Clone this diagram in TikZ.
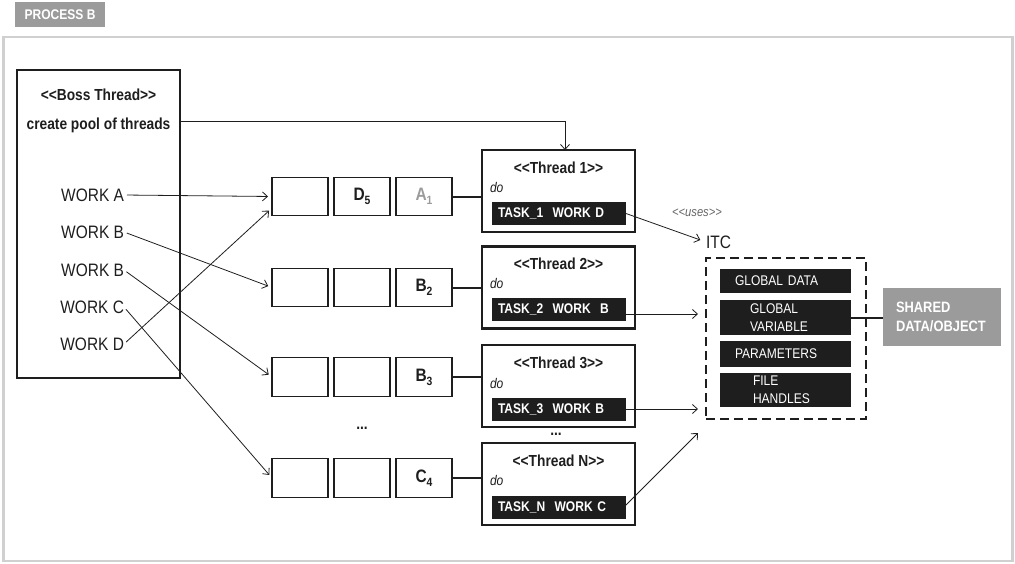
\documentclass[tikz,border=0pt]{standalone}
\usepackage{fontspec}
\setmainfont{Liberation Sans}[FakeStretch=0.86]
\usetikzlibrary{arrows.meta,calc}
\definecolor{framegray}{HTML}{D0D0D0}
\definecolor{boxgray}{HTML}{9B9B9B}
\definecolor{ink}{HTML}{1E1E1E}
\newcommand\LLt{<\kern0pt<}
\newcommand\GGt{>\kern0pt>}
\begin{document}
\begin{tikzpicture}[x=1pt,y=-1pt,
  every node/.style={inner sep=0pt, outer sep=0pt},
  lbl/.style={font=\fontsize{18}{18}\selectfont, text=ink},
  qbox/.style={draw=ink, line width=1.3pt, minimum width=56pt, minimum height=38.5pt, font=\bfseries\fontsize{18}{18}\selectfont, text=ink},
  thr/.style={draw=ink, line width=2.2pt, minimum width=153pt, minimum height=82pt},
  ttl/.style={font=\bfseries\fontsize{16}{16}\selectfont, text=ink},
  dolbl/.style={font=\itshape\fontsize{14}{14}\selectfont, anchor=west, text=ink},
  bar/.style={fill=ink, text=white, minimum width=134pt, minimum height=23pt, text width=122pt, align=left, inner xsep=6pt, font=\bfseries\fontsize{14}{14}\selectfont},
  itcbox/.style={fill=ink, text=white, minimum width=131pt, align=left, anchor=center, font=\fontsize{14}{18}\selectfont},
  arr/.style={draw=ink, line width=0.8pt, -{Straight Barb[length=5pt,width=9pt]}},
  link/.style={draw=ink, line width=2pt},
  dots/.style={font=\bfseries\fontsize{16}{16}\selectfont, text=ink},
]
\useasboundingbox (0,0) rectangle (1015,563);
% frame and title
\node[draw=framegray, line width=2.5pt, minimum width=1009pt, minimum height=524pt] (frame) at (508,299) {};
\node[fill=boxgray, text=white, font=\bfseries\fontsize{14}{14}\selectfont, minimum width=90pt, minimum height=25pt] (proc) at (60,14.5) {PROCESS B};
% boss
\node[draw=ink, line width=1.1pt, minimum width=163pt, minimum height=308pt] (boss) at (98.5,224) {};
\node[ttl] (bosst) at (98.5,95) {\LLt Boss Thread\GGt};
\node[ttl] (pool) at (98.5,125) {create pool of threads};
\node[lbl, anchor=east] (wa) at (124,195) {WORK A};
\node[lbl, anchor=east] (wb1) at (124,232) {WORK B};
\node[lbl, anchor=east] (wb2) at (124,270) {WORK B};
\node[lbl, anchor=east] (wc) at (124,307) {WORK C};
\node[lbl, anchor=east] (wd) at (124,344) {WORK D};
% queues
\foreach \r/\y in {1/196.5,2/287.5,3/377,4/478}{
  \node[qbox] (q\r1) at (300,\y) {};
  \node[qbox] (q\r2) at (362,\y) {};
}
\node[qbox] (q13) at (424,196.5) {\textcolor{boxgray}{A\raisebox{-4pt}{\fontsize{12}{12}\selectfont 1}}};
\node[qbox] (q23) at (424,287.5) {B\raisebox{-4pt}{\fontsize{12}{12}\selectfont 2}};
\node[qbox] (q33) at (424,377) {B\raisebox{-4pt}{\fontsize{12}{12}\selectfont 3}};
\node[qbox] (q43) at (424,478) {C\raisebox{-4pt}{\fontsize{12}{12}\selectfont 4}};
\node[font=\bfseries\fontsize{18}{18}\selectfont, text=ink] (d5) at (362,196.5) {D\raisebox{-4pt}{\fontsize{12}{12}\selectfont 5}};
\node[dots] (qdots) at (362,428) {...};
% threads
\node[thr] (t1) at (558.5,191) {};
\node[thr] (t2) at (558.5,287.5) {};
\node[thr] (t3) at (558.5,386) {};
\node[thr] (tn) at (558.5,484) {};
\node[ttl] (t1t) at (558.5,168) {\LLt Thread 1\GGt};
\node[ttl] (t2t) at (558.5,264) {\LLt Thread 2\GGt};
\node[ttl] (t3t) at (558.5,363) {\LLt Thread 3\GGt};
\node[ttl] (tnt) at (558.5,460.5) {\LLt Thread N\GGt};
\node[dolbl] (t1d) at (490,187) {do};
\node[dolbl] (t2d) at (490,283) {do};
\node[dolbl] (t3d) at (490,383) {do};
\node[dolbl] (tnd) at (490,480) {do};
\node[bar] (b1) at (559,213.5) {TASK\_1~~WORK D};
\node[bar] (b2) at (559,309.5) {TASK\_2~~WORK~~B};
\node[bar] (b3) at (559,409) {TASK\_3~~WORK B};
\node[bar] (bn) at (559,507) {TASK\_N~~WORK C};
\node[dots] (tdots) at (556,434) {...};
% ITC
\node[font=\itshape\fontsize{13}{13}\selectfont, text=black!60] (uses) at (697,213) {\LLt uses\GGt};
\node[font=\fontsize{18}{18}\selectfont, text=ink, anchor=west] (itc) at (706,242) {ITC};
\node[draw=ink, line width=1.3pt, dash pattern=on 9pt off 5pt, minimum width=160pt, minimum height=161pt] (dash) at (786,338.5) {};
\node[itcbox, minimum height=24pt, text width=101pt, inner xsep=15pt] (gd) at (785.5,281) {GLOBAL DATA};
\node[itcbox, minimum height=35pt, text width=71pt, inner xsep=30pt] (gv) at (785.5,317.5) {GLOBAL\\VARIABLE};
\node[itcbox, minimum height=26pt, text width=101pt, inner xsep=15pt] (pa) at (785.5,354) {PARAMETERS};
\node[itcbox, minimum height=34pt, text width=65pt, inner xsep=33pt] (fh) at (785.5,390) {FILE\\HANDLES};
\node[fill=boxgray, text=white, minimum width=118pt, minimum height=58pt, text width=92pt, inner xsep=13pt, align=left, font=\bfseries\fontsize{15}{19}\selectfont] (shared) at (942,317) {SHARED\\DATA/OBJECT};
% connectors
\draw[arr] ([yshift=-51pt]boss.north east) -| ([xshift=6.5pt]t1.north);
\draw[arr, shorten <=3pt, shorten >=4pt] (wa.east) -- (q11.west);
\draw[arr, shorten <=3pt, shorten >=4pt] (wb1.east) -- (q21.west);
\draw[arr, shorten <=3pt, shorten >=4pt] (wb2.east) -- (q31.west);
\draw[arr, shorten <=3pt, shorten >=4pt] (wc.east) -- (q41.west);
\draw[arr, shorten <=3pt, shorten >=4pt] (wd.east) -- ([yshift=-11.5pt]q11.west);
\draw[link] (q13.east) -- (q13.east -| t1.west);
\draw[link] (q23.east) -- (q23.east -| t2.west);
\draw[link] (q33.east) -- (q33.east -| t3.west);
\draw[link] (q43.east) -- (q43.east -| tn.west);
\draw[arr, shorten >=6pt] (b1.east) -- (itc.west);
\coordinate (b2o) at ([yshift=-4.5pt]b2.east);
\draw[arr, shorten >=8pt] (b2o) -- (b2o -| dash.west);
\draw[arr, shorten >=8pt] (b3.east) -- (b3.east -| dash.west);
\draw[arr] ([yshift=2pt]bn.east) -- ([shift={(-8,14)}]dash.south west);
\draw[link] (gv.east) -- (gv.east -| shared.west);
\end{tikzpicture}
\end{document}
